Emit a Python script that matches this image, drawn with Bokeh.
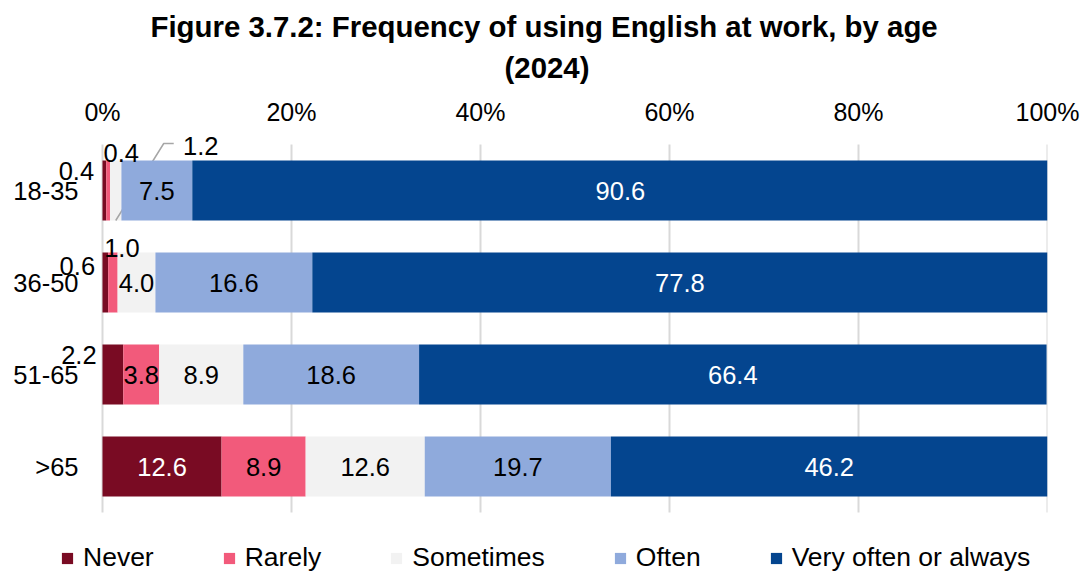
from bokeh.plotting import figure
from bokeh.models import Range1d, Legend, LegendItem, ColumnDataSource, FixedTicker, Title
from bokeh.embed import file_html
from bokeh.resources import INLINE
from bokeh.core.properties import value

# ---------------- data ----------------
categories = ["18-35", "36-50", "51-65", ">65"]
series = ["Never", "Rarely", "Sometimes", "Often", "Very often or always"]
never = [0.4, 0.6, 2.2, 12.6]
rarely = [0.4, 1.0, 3.8, 8.9]
sometimes = [1.2, 4.0, 8.9, 12.6]
often = [7.5, 16.6, 18.6, 19.7]
very_often = [90.6, 77.8, 66.4, 46.2]
x_ticks = [0, 20, 40, 60, 80, 100]
x_tick_labels = ["0%", "20%", "40%", "60%", "80%", "100%"]
title_line1 = "Figure 3.7.2: Frequency of using English at work, by age"
title_line2 = "(2024)"

# ---------------- styles / geometry ----------------
colors = ["#790b23", "#f25a7b", "#f2f2f2", "#8faadc", "#04458f"]
inside_text_colors = ["white", "black", "black", "black", "white"]
FONT = "Liberation Sans"
FS = "25.5px"
# label offsets in screen px (dx, dy) for labels placed outside small segments
outside = {(0, 0): (-28, -20), (1, 0): (13, -38), (2, 0): (85, -45),
           (0, 1): (-28, -17), (1, 1): (9, -35), (0, 2): (-34, -20)}
leader = {(2, 0): [(0, 30), (48, -47), (58, -47)]}
BAR_H = 0.65

W, H = 1083, 571
MB_LEFT, MB_TOP = 5, 131
PX_PER_UNIT_X = 9.45      # px per percent
PX_PER_CAT = 92.0         # px per category band
PLOT_X0 = 97              # px from frame left to the 0% line
FIRST_CAT_PX = 59         # px from frame top to first category centre
FRAME_W = 1042
FRAME_H = H - MB_TOP
MB_RIGHT = W - MB_LEFT - FRAME_W

n = len(categories)
ypos = [n - 1 - i for i in range(n)]
x_start = -PLOT_X0 / PX_PER_UNIT_X
x_end = x_start + FRAME_W / PX_PER_UNIT_X
y_end = (n - 1) + FIRST_CAT_PX / PX_PER_CAT
y_start = y_end - FRAME_H / PX_PER_CAT
PX_X = 1.0 / PX_PER_UNIT_X
PX_Y = 1.0 / PX_PER_CAT

values = [never, rarely, sometimes, often, very_often]

p = figure(width=W, height=H, output_backend="svg", toolbar_location=None,
           x_range=Range1d(x_start, x_end), y_range=Range1d(y_start, y_end),
           x_axis_location="above", min_border_left=MB_LEFT, min_border_right=MB_RIGHT,
           min_border_top=MB_TOP, min_border_bottom=0)
p.outline_line_color = None
p.xgrid.visible = False
p.ygrid.visible = False
p.yaxis.visible = False

xa = p.xaxis[0]
xa.ticker = FixedTicker(ticks=x_ticks)
xa.major_label_overrides = {t: l for t, l in zip(x_ticks, x_tick_labels)}
xa.axis_line_color = None
xa.major_tick_line_color = None
xa.minor_tick_line_color = None
xa.major_label_standoff = 0
xa.major_label_text_font = FONT
xa.major_label_text_font_size = "25px"
xa.major_label_text_color = "black"

t2 = Title(text=title_line2, align="left", offset=499, standoff=21,
           text_font=FONT, text_font_size="29.4px", text_font_style="bold", text_color="black")
t1 = Title(text=title_line1, align="left", offset=145, standoff=-8,
           text_font=FONT, text_font_size="29.4px", text_font_style="bold", text_color="black")
p.add_layout(t2, "above")
p.add_layout(t1, "above")

# vertical grid lines spanning the category bands
p.segment(x0=x_ticks, x1=x_ticks, y0=[-0.5] * len(x_ticks), y1=[n - 0.5] * len(x_ticks),
          line_color="#d9d9d9", line_width=2)

# category labels at the 0% line
p.text(x=[0] * n, y=ypos, text=categories, x_offset=-24, text_align="right",
       text_baseline="middle", text_font=value(FONT), text_font_size=FS, text_color="black")

renderers = []
cum = [0.0] * n
lx, ly, lt, lc, lxo, lyo = [], [], [], [], [], []
for si, vals in enumerate(values):
    left = cum[:]
    right = [a + b for a, b in zip(cum, vals)]
    src = ColumnDataSource(dict(y=ypos, left=left, right=right))
    r = p.hbar(y="y", left="left", right="right", height=BAR_H, source=src,
               fill_color=colors[si], line_color=None)
    renderers.append(r)
    for ci, v in enumerate(vals):
        mid = (left[ci] + right[ci]) / 2
        lx.append(mid)
        ly.append(ypos[ci])
        lt.append(f"{v:.1f}")
        if (si, ci) in outside:
            dx, dy = outside[(si, ci)]
            lc.append("black")
        else:
            dx, dy = 0, 0
            lc.append(inside_text_colors[si])
        lxo.append(dx)
        lyo.append(dy)
        if (si, ci) in leader:
            pts = leader[(si, ci)]
            p.line([mid + a * PX_X for a, b in pts], [ypos[ci] - b * PX_Y for a, b in pts],
                   line_color="#a6a6a6", line_width=1.5)
    cum = right

lsrc = ColumnDataSource(dict(x=lx, y=ly, t=lt, c=lc, xo=lxo, yo=lyo))
p.text(x="x", y="y", text="t", text_color="c", x_offset="xo", y_offset="yo", source=lsrc,
       text_align="center", text_baseline="middle", text_font=value(FONT), text_font_size=FS)

legend = Legend(items=[LegendItem(label=s, renderers=[r]) for s, r in zip(series, renderers)],
                orientation="horizontal", location=(55, -2), border_line_color=None,
                background_fill_alpha=0, padding=0, margin=0, spacing=68,
                glyph_width=14, glyph_height=14, label_standoff=9,
                label_text_font=FONT, label_text_font_size="26.5px", label_text_color="black")
p.add_layout(legend, "center")

open("out.html", "w").write(file_html(p, INLINE))
